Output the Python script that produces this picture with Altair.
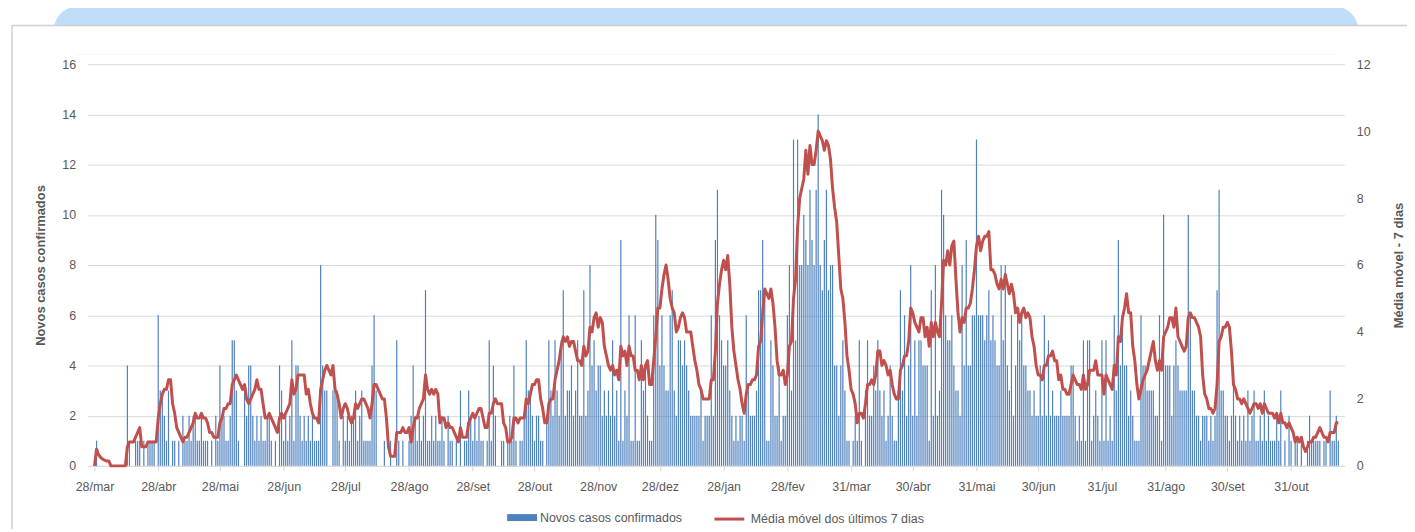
import altair as alt
import pandas as pd

inicio = "2020-03-28"

# Novos casos confirmados por dia (a partir de 28/mar/2020)
casos_bloco1 = [
    0, 1, 0, 0, 0, 0, 0,
    0, 0, 0, 0, 0, 0, 0,
    0, 0, 4, 1, 0, 0, 1,
    1, 1, 0, 1, 0, 1, 1,
    1, 1, 0, 6, 3, 3, 2,
    1, 3, 0, 1, 1, 0, 1,
    0, 2, 1, 1, 2, 1, 2,
    2, 1, 1, 2, 1, 1, 1,
    0, 1, 0, 2, 1, 4, 2,
    2, 1, 1, 2, 5, 5, 3,
    1, 0, 0, 3, 2, 4, 4,
    2, 1, 2, 1, 2, 1, 1,
    2, 2, 1, 0, 1, 0, 4,
]
casos_bloco2 = [
    3, 1, 2, 1, 2, 5, 1,
    4, 4, 2, 1, 2, 1, 2,
    1, 2, 1, 1, 1, 8, 4,
    3, 3, 0, 0, 3, 3, 3,
    1, 0, 2, 1, 2, 1, 2,
    2, 3, 1, 2, 3, 1, 1,
    1, 1, 4, 6, 3, 0, 0,
    0, 1, 0, 0, 1, 0, 0,
    5, 1, 0, 1, 0, 0, 1,
    2, 4, 2, 1, 2, 1, 2,
    7, 1, 1, 2, 1, 2, 1,
    1, 2, 1, 0, 2, 1, 1,
    0, 1, 0, 3, 0, 1, 1,
]
casos_bloco3 = [
    3, 2, 1, 2, 1, 2, 1,
    1, 0, 1, 5, 1, 4, 2,
    0, 0, 1, 1, 0, 1, 2,
    1, 4, 1, 0, 1, 1, 2,
    5, 3, 3, 2, 1, 2, 2,
    1, 1, 0, 2, 5, 3, 2,
    5, 3, 2, 5, 7, 2, 3,
    3, 4, 2, 3, 5, 2, 2,
    7, 2, 3, 8, 4, 5, 3,
    4, 4, 2, 3, 2, 3, 2,
    5, 2, 3, 1, 9, 1, 3,
    2, 6, 1, 1, 6, 1, 1,
    5, 3, 4, 2, 1, 1, 6,
]
casos_bloco4 = [
    10, 9, 4, 6, 4, 3, 3,
    6, 7, 3, 2, 5, 5, 4,
    5, 4, 3, 2, 2, 2, 2,
    2, 3, 1, 2, 2, 2, 6,
    2, 9, 11, 6, 5, 4, 4,
    5, 3, 2, 1, 2, 1, 2,
    2, 1, 6, 3, 2, 2, 2,
    3, 7, 7, 9, 7, 1, 1,
    5, 4, 2, 2, 4, 1, 2,
    2, 6, 8, 3, 13, 5, 13,
    8, 8, 10, 9, 8, 11, 9,
    8, 11, 14, 8, 7, 9, 11,
    7, 8, 8, 4, 4, 2, 4,
]
casos_bloco5 = [
    5, 3, 1, 1, 0, 1, 2,
    1, 5, 1, 0, 3, 5, 2,
    2, 4, 3, 5, 3, 2, 3,
    1, 2, 4, 2, 1, 1, 3,
    7, 3, 6, 2, 4, 8, 2,
    5, 2, 5, 5, 4, 4, 4,
    1, 7, 2, 8, 2, 3, 11,
    10, 6, 5, 5, 6, 4, 3,
    3, 2, 8, 4, 9, 4, 4,
    6, 6, 13, 6, 6, 6, 5,
    6, 7, 5, 6, 5, 4, 4,
    8, 5, 8, 4, 3, 6, 2,
    4, 6, 5, 6, 4, 4, 3,
]
casos_bloco6 = [
    3, 2, 3, 2, 2, 4, 2,
    6, 2, 5, 2, 3, 2, 2,
    2, 3, 2, 2, 2, 2, 4,
    4, 2, 1, 2, 1, 5, 1,
    5, 5, 1, 2, 3, 2, 1,
    5, 1, 5, 1, 2, 1, 6,
    3, 9, 4, 6, 4, 4, 2,
    3, 2, 1, 1, 1, 6, 4,
    4, 3, 3, 3, 3, 2, 2,
    6, 1, 10, 4, 4, 4, 2,
    4, 5, 4, 3, 3, 3, 3,
    10, 6, 3, 3, 2, 2, 1,
    2, 2, 2, 1, 2, 1, 2,
]
casos_bloco7 = [
    7, 11, 3, 3, 2, 2, 1,
    2, 4, 2, 1, 2, 1, 2,
    1, 3, 1, 2, 3, 1, 1,
    2, 1, 3, 1, 2, 1, 1,
    1, 2, 1, 3, 0, 1, 0,
    2, 1, 0, 1, 1, 0, 1,
    0, 0, 1, 2, 1, 1, 1,
    1, 1, 0, 1, 1, 0, 3,
    1, 1, 2, 1,
]

casos = (casos_bloco1 + casos_bloco2 + casos_bloco3 + casos_bloco4 +
         casos_bloco5 + casos_bloco6 + casos_bloco7)

# datas dos rótulos do eixo x (ano, mês, dia)
ticks_x = [
    (2020, 3, 28), (2020, 4, 28), (2020, 5, 28), (2020, 6, 28), (2020, 7, 28),
    (2020, 8, 28), (2020, 9, 28), (2020, 10, 28), (2020, 11, 28), (2020, 12, 28),
    (2021, 1, 28), (2021, 2, 28), (2021, 3, 31), (2021, 4, 30), (2021, 5, 31),
    (2021, 6, 30), (2021, 7, 31), (2021, 8, 31), (2021, 9, 30), (2021, 10, 31),
]
meses = ["jan", "fev", "mar", "abr", "mai", "jun", "jul", "ago", "set", "out", "nov", "dez"]
ticks_esq = [0, 2, 4, 6, 8, 10, 12, 14, 16]
ticks_dir = [0, 2, 4, 6, 8, 10, 12]

serie_barras = "Novos casos confirmados"
serie_linha = "Média móvel dos últimos 7 dias"

df = pd.DataFrame({
    "data": pd.date_range(inicio, periods=len(casos), freq="D"),
    "casos": casos,
})

FONT = "Liberation Sans"
GREY = "#595959"
BLUE = "#4F81BD"
RED = "#C0504D"

label_expr = ("date(datum.value) + '/' + [" + ",".join("'%s'" % m for m in meses) +
              "][month(datum.value)]")

x_enc = alt.X(
    "data:T",
    scale=alt.Scale(domain=[alt.DateTime(year=2020, month=3, date=27, hours=1),
                            alt.DateTime(year=2021, month=11, date=23, hours=12)]),
    axis=alt.Axis(
        values=[alt.DateTime(year=y, month=m, date=d) for (y, m, d) in ticks_x],
        labelExpr=label_expr, title=None, grid=False,
        domainColor="#D9D9D9", tickColor="#D9D9D9", tickSize=5,
        labelColor=GREY, labelFont=FONT, labelFontSize=12.5, labelPadding=10,
        labelFlush=False, labelOverlap=False, labelBound=False,
    ),
)

deco = alt.Data(values=[{"k": 1}])

faixa = alt.Chart(deco).mark_rect(color="#BEDDF8", cornerRadius=28).encode(
    x=alt.value(-34), x2=alt.value(1278), y=alt.value(-58), y2=alt.value(-10)
)
capa = alt.Chart(deco).mark_rect(color="white").encode(
    x=alt.value(-40), x2=alt.value(1290), y=alt.value(-39), y2=alt.value(-10)
)
borda_topo = alt.Chart(deco).mark_rule(color="#CFCFCF", strokeWidth=1.5).encode(
    x=alt.value(-76), x2=alt.value(1340), y=alt.value(-39)
)
borda_esq = alt.Chart(deco).mark_rule(color="#CFCFCF", strokeWidth=1.5).encode(
    x=alt.value(-76), y=alt.value(-39), y2=alt.value(480)
)

barras = alt.Chart(df).transform_calculate(
    serie="'" + serie_barras + "'"
).mark_bar(width=1.2).encode(
    x=x_enc,
    y=alt.Y(
        "casos:Q",
        scale=alt.Scale(domain=[0, 16]),
        axis=alt.Axis(
            orient="left", values=ticks_esq, grid=True, gridColor="#D9D9D9",
            domain=False, ticks=False, labelColor=GREY, labelFont=FONT,
            labelFontSize=12.5, labelPadding=12,
            title="Novos casos confirmados", titleColor=GREY, titleFont=FONT,
            titleFontSize=13, titleFontWeight="bold", titlePadding=14,
        ),
    ),
    fill=alt.Fill(
        "serie:N",
        scale=alt.Scale(domain=[serie_barras], range=[BLUE]),
        legend=alt.Legend(
            title=None, orient="none", legendX=427, legendY=446,
            symbolType="M-1.5,-0.35H1.5V0.35H-1.5Z", symbolSize=400,
            symbolStrokeWidth=0, labelFont=FONT, labelFontSize=12.5,
            labelColor=GREY, labelOffset=8, labelLimit=400, padding=0,
        ),
    ),
)

linha = alt.Chart(df).transform_window(
    media="mean(casos)", frame=[-6, 0], sort=[alt.SortField("data")]
).transform_calculate(
    serie_l="'" + serie_linha + "'"
).mark_line(strokeWidth=3, strokeJoin="round").encode(
    x=alt.X("data:T"),
    y=alt.Y(
        "media:Q",
        scale=alt.Scale(domain=[0, 12]),
        axis=alt.Axis(
            orient="right", values=ticks_dir, grid=False, domain=False,
            ticks=False, labelColor=GREY, labelFont=FONT, labelFontSize=12.5,
            labelPadding=12, title="Média móvel - 7 dias", titleColor=GREY,
            titleFont=FONT, titleFontSize=13, titleFontWeight="bold",
            titleAngle=-90, titlePadding=36,
        ),
    ),
    stroke=alt.Stroke(
        "serie_l:N",
        scale=alt.Scale(domain=[serie_linha], range=[RED]),
        legend=alt.Legend(
            title=None, orient="none", legendX=634, legendY=446,
            symbolType="M-1.5,0H1.5", symbolSize=400, symbolStrokeWidth=3,
            labelFont=FONT, labelFontSize=12.5, labelColor=GREY,
            labelOffset=10, labelLimit=400, padding=0,
        ),
    ),
)

chart = alt.layer(faixa, capa, borda_topo, borda_esq, barras, linha).resolve_scale(
    y="independent"
).properties(
    width=1264, height=404,
    autosize=alt.AutoSizeParams(type="none"),
    padding={"left": 80, "top": 55, "right": 63, "bottom": 62},
).configure_view(strokeWidth=0)

chart.save("out.html", embed_options={"renderer": "svg", "actions": False})
